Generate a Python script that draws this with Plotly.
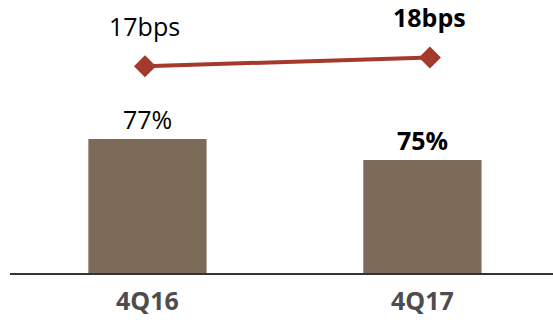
import plotly.graph_objects as go

# Quarterly comparison: ratio bars with a bps line above
quarters = ["4Q16", "4Q17"]
ratio_pct = [77, 75]
bps = [17, 18]
bold_last = [False, True]

FONT = "Open Sans"
BAR_COLOR = "#7B6B58"
LINE_COLOR = "#A33A2C"


def fmt(text, bold):
    return f"<b>{text}</b>" if bold else text


fig = go.Figure()

fig.add_trace(go.Bar(
    x=quarters,
    y=ratio_pct,
    marker=dict(color=BAR_COLOR, line=dict(width=0)),
    width=0.43,
    xaxis="x",
    yaxis="y",
    hoverinfo="skip",
))

fig.add_trace(go.Scatter(
    x=quarters,
    y=bps,
    mode="lines+markers",
    line=dict(color=LINE_COLOR, width=4),
    marker=dict(symbol="diamond", size=17, color=LINE_COLOR),
    xaxis="x2",
    yaxis="y2",
    hoverinfo="skip",
))

annotations = []
for q, v, b in zip(quarters, ratio_pct, bold_last):
    annotations.append(dict(
        x=q, y=v, xref="x", yref="y",
        text=fmt(f"{v}%", b),
        showarrow=False, yanchor="bottom", yshift=1,
        font=dict(family=FONT, size=25, color="#000000"),
    ))
for q, v, b in zip(quarters, bps, bold_last):
    annotations.append(dict(
        x=q, y=v, xref="x2", yref="y2",
        text=fmt(f"{v}bps", b),
        showarrow=False, yanchor="bottom", yshift=21,
        font=dict(family=FONT, size=25, color="#000000"),
    ))

fig.update_layout(
    width=553,
    height=320,
    margin=dict(l=10, r=0, t=0, b=47, autoexpand=False),
    paper_bgcolor="white",
    plot_bgcolor="white",
    showlegend=False,
    annotations=annotations,
    xaxis=dict(
        type="category",
        range=[-0.5, 1.475],
        automargin=False,
        showline=True, linecolor="#333333", linewidth=2,
        showgrid=False, zeroline=False, ticks="",
        tickfont=dict(family=FONT, size=25, color="#4D4D4F", weight="bold"),
        ticklabelstandoff=5,
    ),
    xaxis2=dict(
        type="category",
        overlaying="x",
        range=[-0.4737, 1.432],
        visible=False,
    ),
    yaxis=dict(
        range=[64.2, 90.27],
        visible=False,
    ),
    yaxis2=dict(
        overlaying="y",
        range=[-6.49, 24.53],
        visible=False,
    ),
)

fig.write_html("out.html")
